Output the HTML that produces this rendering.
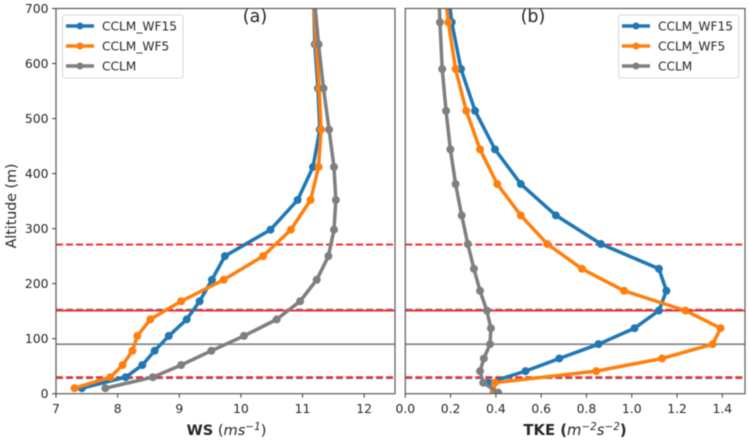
<!DOCTYPE html>
<html lang="en">
<head>
<meta charset="utf-8">
<title>WS and TKE altitude profiles</title>
<style>
  html, body { margin: 0; padding: 0; background: #fff; width: 749px; height: 441px; overflow: hidden; }
  svg { display: block; filter: blur(0.5px); font-family: "DejaVu Sans", "Liberation Sans", sans-serif; }
  text { fill: #262626; }
</style>
</head>
<body>
<svg id="chart" xmlns="http://www.w3.org/2000/svg" width="749" height="441" viewBox="0 0 749 441">
  <defs>
    <clipPath id="clip-a"><rect x="56" y="8.5" width="339" height="385.2"/></clipPath>
    <clipPath id="clip-b"><rect x="405.3" y="8.5" width="339.7" height="385.2"/></clipPath>
  </defs>
  <g id="panel-a"></g>
  <g id="panel-b"></g>

  <text transform="translate(16,206) rotate(-90)" text-anchor="middle" font-size="14.2">Altitude (m)</text>
  <text x="226.5" y="435" text-anchor="middle" font-size="14.6"><tspan font-weight="bold">WS</tspan> (<tspan font-style="italic">ms</tspan><tspan font-style="italic" font-size="10.4" dy="-5">−1</tspan><tspan dy="5">)</tspan></text>
  <text x="575" y="435" text-anchor="middle" font-size="14.8" font-weight="bold">TKE (<tspan font-style="italic" font-weight="normal">m</tspan><tspan font-style="italic" font-weight="normal" font-size="10.4" dy="-5">−2</tspan><tspan font-style="italic" font-weight="normal" dy="5">s</tspan><tspan font-style="italic" font-weight="normal" font-size="10.4" dy="-5">−2</tspan><tspan dy="5">)</tspan></text>
  <text x="255" y="22" text-anchor="middle" font-size="17.5">(a)</text>
  <text x="533" y="22" text-anchor="middle" font-size="17.5">(b)</text>

  <g>
    <rect x="62.5" y="15" width="120.5" height="63" rx="2" fill="#fff" fill-opacity="0.8" stroke="#d8d8d8" stroke-width="1"/>
    <g><line x1="66" x2="94" y1="26" y2="26" stroke="#1f77b4" stroke-width="3.5"/><circle cx="80" cy="26" r="3.5" fill="#1f77b4"/><text x="102" y="30.5" font-size="12.2">CCLM_WF15</text></g>
    <g><line x1="66" x2="94" y1="46" y2="46" stroke="#ff7f0e" stroke-width="3.5"/><circle cx="80" cy="46" r="3.5" fill="#ff7f0e"/><text x="102" y="50.5" font-size="12.2">CCLM_WF5</text></g>
    <g><line x1="66" x2="94" y1="66" y2="66" stroke="#7f7f7f" stroke-width="3.5"/><circle cx="80" cy="66" r="3.5" fill="#7f7f7f"/><text x="102" y="70.5" font-size="12.2">CCLM</text></g>
  </g>
  <g>
    <rect x="618.7" y="15" width="120" height="63" rx="2" fill="#fff" fill-opacity="0.8" stroke="#d8d8d8" stroke-width="1"/>
    <g><line x1="622" x2="650" y1="26" y2="26" stroke="#1f77b4" stroke-width="3.5"/><circle cx="636" cy="26" r="3.5" fill="#1f77b4"/><text x="658" y="30.5" font-size="12.2">CCLM_WF15</text></g>
    <g><line x1="622" x2="650" y1="46" y2="46" stroke="#ff7f0e" stroke-width="3.5"/><circle cx="636" cy="46" r="3.5" fill="#ff7f0e"/><text x="658" y="50.5" font-size="12.2">CCLM_WF5</text></g>
    <g><line x1="622" x2="650" y1="66" y2="66" stroke="#7f7f7f" stroke-width="3.5"/><circle cx="636" cy="66" r="3.5" fill="#7f7f7f"/><text x="658" y="70.5" font-size="12.2">CCLM</text></g>
  </g>
</svg>
<script>
const wsAltitudes = [10, 30, 52, 78, 105, 135, 168, 207, 250, 298, 352, 412, 480, 555, 635, 720];
const wsWf15 = [7.42, 8.13, 8.4, 8.6, 8.83, 9.12, 9.33, 9.53, 9.74, 10.48, 10.92, 11.17, 11.28, 11.25, 11.2, 11.18];
const wsWf5 = [7.3, 7.88, 8.08, 8.24, 8.32, 8.53, 9.03, 9.72, 10.36, 10.81, 11.13, 11.26, 11.3, 11.27, 11.22, 11.18];
const wsCclm = [7.8, 8.57, 9.03, 9.52, 10.05, 10.58, 10.96, 11.23, 11.42, 11.51, 11.54, 11.51, 11.43, 11.34, 11.26, 11.19];

const tkeAltitudes = [2, 20, 41, 64, 90, 119, 151, 187, 227, 272, 324, 381, 444, 514, 590, 675, 765];
const tkeWf15 = [0.39, 0.366, 0.531, 0.68, 0.853, 1.012, 1.12, 1.153, 1.12, 0.864, 0.665, 0.51, 0.396, 0.308, 0.246, 0.205, 0.18];
const tkeWf5 = [0.39, 0.396, 0.843, 1.134, 1.357, 1.392, 1.237, 0.966, 0.78, 0.627, 0.51, 0.406, 0.33, 0.269, 0.222, 0.19, 0.165];
const tkeCclm = [0.41, 0.344, 0.33, 0.347, 0.374, 0.378, 0.36, 0.33, 0.303, 0.276, 0.249, 0.222, 0.199, 0.18, 0.163, 0.153, 0.145];

const yTicks = [0, 100, 200, 300, 400, 500, 600, 700];
const wsXTicks = [7, 8, 9, 10, 11, 12];
const tkeXTicks = ['0.0', '0.2', '0.4', '0.6', '0.8', '1.0', '1.2', '1.4'];

const grayDashedLevels = [153, 28];
const graySolidLevels = [90];
const redDashedLevels = [271, 30];
const redSolidLevels = [151];

const seriesColors = ['#1f77b4', '#ff7f0e', '#7f7f7f'];
const seriesNames = ['wf15', 'wf5', 'cclm'];

const NS = 'http://www.w3.org/2000/svg';
const plotTop = 8.5, plotBottom = 393.7;
const yScale = v => plotBottom - (v / 700) * (plotBottom - plotTop);

function make(tag, attrs) {
  const el = document.createElementNS(NS, tag);
  for (const k in attrs) el.setAttribute(k, attrs[k]);
  return el;
}

function drawPanel(panel, prefix, left, right, xMin, xMax, xTicks, altitudes, seriesList, clipId, showY) {
  const xScale = v => left + (v - xMin) / (xMax - xMin) * (right - left);
  const g = document.getElementById(panel);

  const plotted = make('g', { 'clip-path': 'url(#' + clipId + ')' });
  g.appendChild(plotted);

  const addLevels = (levels, color, dash, width, kind) => {
    levels.forEach(level => {
      const ln = make('line', { x1: left, x2: right, y1: yScale(level), y2: yScale(level), stroke: color, 'stroke-width': width });
      if (dash) ln.setAttribute('stroke-dasharray', dash);
      
      
      plotted.appendChild(ln);
    });
  };
  addLevels(grayDashedLevels, '#7f7f7f', '7 3', 1.7, 'gray-dashed');
  addLevels(graySolidLevels, '#7f7f7f', null, 1.7, 'gray-solid');
  addLevels(redDashedLevels, '#f0262a', '7 3', 1.8, 'red-dashed');
  addLevels(redSolidLevels, '#f0262a', null, 1.8, 'red-solid');

  seriesList.forEach((values, s) => {
    const pts = values.map((v, i) => xScale(v).toFixed(2) + ',' + yScale(altitudes[i]).toFixed(2)).join(' ');
    const line = make('polyline', { points: pts, fill: 'none', stroke: seriesColors[s], 'stroke-width': 3.5, 'stroke-linejoin': 'round' });
    
    
    plotted.appendChild(line);
    values.forEach((v, i) => {
      const dot = make('circle', { cx: xScale(v), cy: yScale(altitudes[i]), r: 4, fill: seriesColors[s] });
      
      
      plotted.appendChild(dot);
    });
  });

  const frame = make('rect', { x: left, y: plotTop, width: right - left, height: plotBottom - plotTop, fill: 'none', stroke: '#5a5a5a', 'stroke-width': 1.2 });
  
  
  g.appendChild(frame);

  xTicks.forEach(t => {
    const x = xScale(Number(t));
    const mark = make('line', { x1: x, x2: x, y1: plotBottom, y2: plotBottom + 4, stroke: '#3a3a3a', 'stroke-width': 1 });
    
    
    g.appendChild(mark);
    const label = make('text', { x: x, y: 413, 'text-anchor': 'middle', 'font-size': 12.4 });
    label.textContent = t;
    
    
    g.appendChild(label);
  });

  if (showY) {
    yTicks.forEach(t => {
      const y = yScale(t);
      const mark = make('line', { x1: left - 4, x2: left, y1: y, y2: y, stroke: '#3a3a3a', 'stroke-width': 1 });
      
      
      g.appendChild(mark);
      const label = make('text', { x: left - 7.5, y: y + 4.5, 'text-anchor': 'end', 'font-size': 12.4 });
      label.textContent = t;
      
      
      g.appendChild(label);
    });
  }
}

drawPanel('panel-a', 'ws', 56, 395, 7, 12.5, wsXTicks, wsAltitudes, [wsWf15, wsWf5, wsCclm], 'clip-a', true);
drawPanel('panel-b', 'tke', 405.3, 745, 0, 1.5, tkeXTicks, tkeAltitudes, [tkeWf15, tkeWf5, tkeCclm], 'clip-b', false);
</script>
</body>
</html>
